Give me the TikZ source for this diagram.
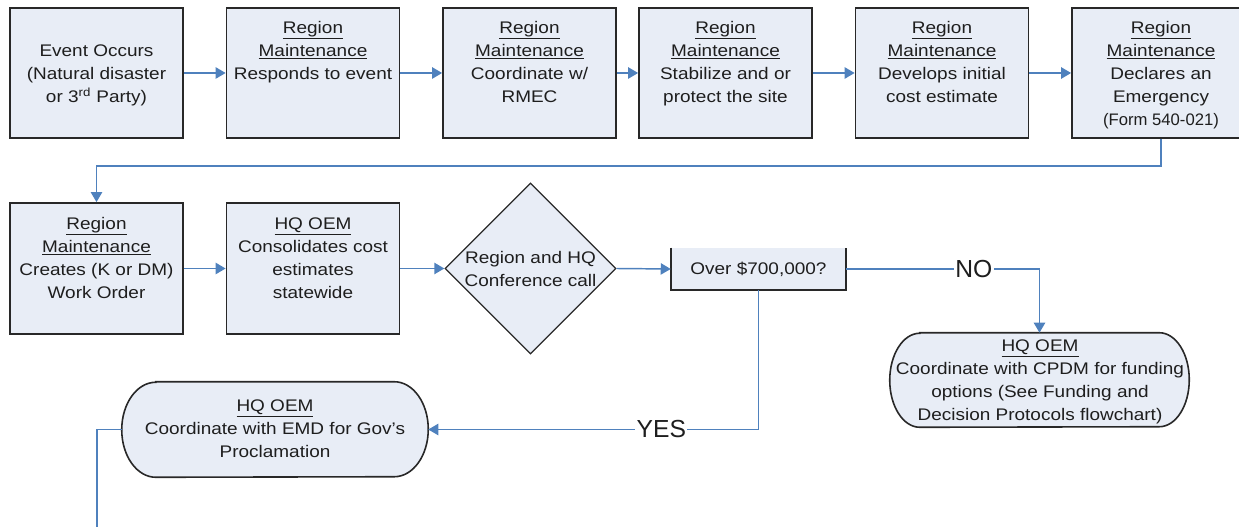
\documentclass[tikz,border=0pt]{standalone}
\usepackage{fontspec}
\setmainfont{Liberation Sans}[FakeStretch=1.13]
\newfontfamily\narrowfont{Liberation Sans}
\usetikzlibrary{arrows.meta,shapes.geometric}
\definecolor{boxfill}{RGB}{232,237,246}
\definecolor{connblue}{RGB}{79,129,189}
\definecolor{edgegray}{RGB}{40,40,40}
\definecolor{ink}{RGB}{30,30,30}
\newcommand\fls{\rule{0pt}{11.3pt}}
\newcommand\regmaint{\underline{Region}\\\underline{Maintenance}}
\begin{document}
\begin{tikzpicture}[x=0.75pt,y=-0.75pt,
 procbox/.style={draw=edgegray, fill=boxfill, line width=1.3pt, minimum width=129.75pt, minimum height=97.5pt, inner sep=0},
 termbox/.style={minimum width=#1, inner sep=0},
 termline/.style={draw=edgegray, fill=boxfill, line width=1.2pt},
 txt/.style={font=\fontsize{12.6}{17.25}\selectfont, align=center, inner sep=0, text=ink},
 link/.style={draw=connblue, line width=1.1pt},
 arr/.style={link, -{Triangle[length=7.5pt,width=8.5pt]}},
 lab/.style={font=\narrowfont\fontsize{18.5}{20}\selectfont, fill=white, inner sep=1pt, text=ink},
]
\useasboundingbox (0,0) rectangle (1239,527);
\clip (0,0) rectangle (1239,527);

% top row
\node[procbox] (b1) at (96.5,73) {};
\node[procbox] (b2) at (313,73) {};
\node[procbox] (b3) at (529.5,73) {};
\node[procbox] (b4) at (725.5,73) {};
\node[procbox] (b5) at (942,73) {};
\node[procbox, minimum width=133.5pt] (b6) at (1161,73) {};
% second row
\node[procbox, minimum height=98.25pt] (b7) at (96.5,268.5) {};
\node[procbox, minimum height=98.25pt] (b8) at (313,268.5) {};
\node[diamond, draw=edgegray, fill=boxfill, line width=1pt, minimum width=128.25pt, minimum height=128.25pt, inner sep=0] (dec) at (530.5,268.5) {};
\node[fill=boxfill, minimum width=131.25pt, minimum height=31.5pt, inner sep=0] (over) at (758.5,269) {};
\draw[draw=edgegray, line width=1.3pt] (over.north west) -- (over.south west) -- (over.south east) -- (over.north east);

% terminators
\node[termbox=224.25pt, minimum height=70.5pt] (cpdm) at (1039.5,380) {};
\draw[termline] ([xshift=22.5pt]cpdm.north west) -- ([xshift=-22.5pt]cpdm.north east)
  arc[start angle=90,end angle=-90,x radius=22.5pt,y radius=35.25pt]
  -- ([xshift=22.5pt]cpdm.south west)
  arc[start angle=-90,end angle=-270,x radius=22.5pt,y radius=35.25pt] -- cycle;
\node[termbox=229.5pt, minimum height=71.25pt] (emd) at (275,429.5) {};
\draw[termline] ([xshift=25.5pt]emd.north west) -- ([xshift=-25.5pt]emd.north east)
  arc[start angle=90,end angle=-90,x radius=25.5pt,y radius=35.625pt]
  -- ([xshift=25.5pt]emd.south west)
  arc[start angle=-90,end angle=-270,x radius=25.5pt,y radius=35.625pt] -- cycle;

% texts
\node[txt, anchor=north] (t1) at (96.5,41) {\fls Event Occurs\\(Natural disaster\\or 3\textsuperscript{rd} Party)};
\node[txt, anchor=north] (t2) at (313,18) {\fls\regmaint\\Responds to event};
\node[txt, anchor=north] (t3) at (529.5,18) {\fls\regmaint\\Coordinate w/\\RMEC};
\node[txt, anchor=north] (t4) at (725.5,18) {\fls\regmaint\\Stabilize and or\\protect the site};
\node[txt, anchor=north] (t5) at (942,18) {\fls\regmaint\\Develops initial\\cost estimate};
\node[txt, anchor=north] (t6) at (1161,18) {\fls\regmaint\\Declares an\\Emergency\\{\narrowfont\fontsize{12.5}{17.25}\selectfont (Form 540-021)}};
\node[txt, anchor=north] (t7) at (96.5,214) {\fls\regmaint\\Creates (K or DM)\\Work Order};
\node[txt, anchor=north] (t8) at (313,214) {\fls\underline{HQ OEM}\\Consolidates cost\\estimates\\statewide};
\node[txt] (t9) at (530.5,268.5) {Region and HQ\\Conference call};
\node[txt] (t10) at (758.5,269) {Over \$700,000?};
\node[txt] (t11) at (1040,381.5) {\underline{HQ OEM}\\Coordinate with CPDM for funding\\options (See Funding and\\Decision Protocols flowchart)};
\node[txt] (t12) at (275,428.5) {\underline{HQ OEM}\\Coordinate with EMD for Gov's\\Proclamation};

% connectors
\draw[arr] (b1.east) -- (b2.west);
\draw[arr] (b2.east) -- (b3.west);
\draw[arr] (b3.east) -- (b4.west);
\draw[arr] (b4.east) -- (b5.west);
\draw[arr] (b5.east) -- (b6.west);
\draw[arr] (b6.south) -- ++(0,27) -| (b7.north);
\draw[arr] (b7.east) -- (b8.west);
\draw[arr] (b8.east) -- (dec.west);
\draw[arr] (dec.east) -- (over.west);
\draw[arr] (over.east) -| node[lab, pos=0.33] (no) {NO} (cpdm.north);
\draw[arr] (over.south) |- node[lab, pos=0.647] (yes) {YES} (emd.east);
\coordinate (bot) at (97,532);
\draw[link] (emd.west) -| (bot);
\end{tikzpicture}
\end{document}
